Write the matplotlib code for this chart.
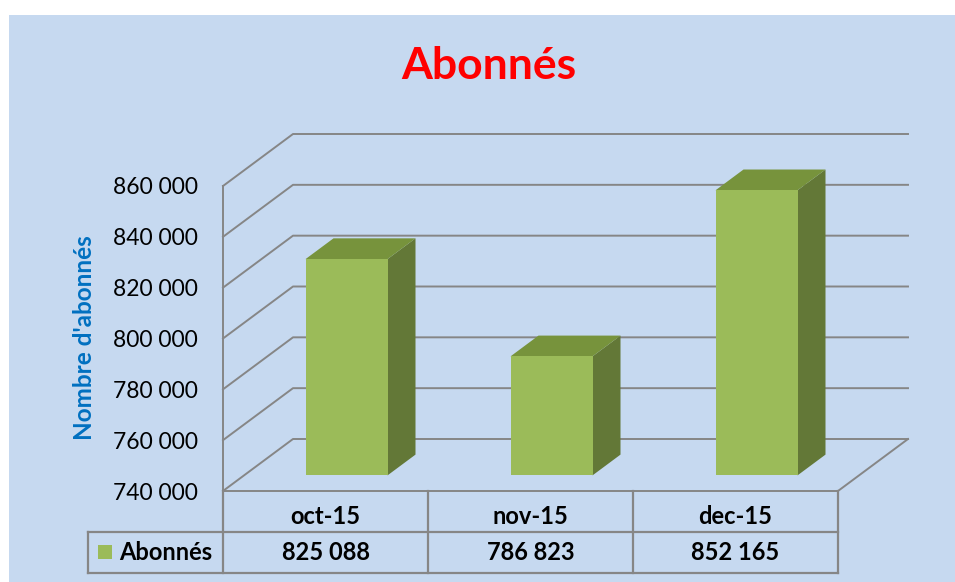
import matplotlib.pyplot as plt
from matplotlib.patches import Polygon, Rectangle
from matplotlib.transforms import Affine2D
import numpy as np

# data
months = ['oct-15', 'nov-15', 'dec-15']
abonnes = [825088, 786823, 852165]
value_labels = ['825 088', '786 823', '852 165']
yticks = [740000, 760000, 780000, 800000, 820000, 840000, 860000]
ytick_labels = ['740 000', '760 000', '780 000', '800 000', '820 000', '840 000', '860 000']

bg = '#C6D9F0'
grid_c = '#868686'
front_c = '#9BBB59'
top_c = '#77933C'
side_c = '#637837'
FONT = 'Lato'

W, H = 955, 582
fig = plt.figure(figsize=(W / 100, H / 100), dpi=100)
fig.patch.set_facecolor('white')
fig.patches.append(Rectangle((9 / W, 0), 1, 1 - 15 / H, transform=fig.transFigure,
                             facecolor=bg, edgecolor='none', zorder=-10))

# front plane of the 3d box
x0, x1 = 223, 838
y_top, y_bot = 186, 491
ax = fig.add_axes([x0 / W, 1 - y_bot / H, (x1 - x0) / W, (y_bot - y_top) / H])
ax.set_xlim(-0.5, 2.5)
ax.set_ylim(740000, 860000)
ax.axis('off')
fig.canvas.draw()

D = np.array([70.0, 52.0])   # depth offset in pixels
idt = Affine2D()             # display coords


def pt(x, v, d=0.0):
    p = ax.transData.transform((x, v))
    return p + d * D


# left wall, back wall gridlines
for v in yticks:
    a, b = pt(-0.5, v), pt(-0.5, v, 1)
    c = pt(2.5, v, 1)
    ax.plot([a[0], b[0], c[0]], [a[1], b[1], c[1]], color=grid_c, lw=1.4,
            transform=idt, clip_on=False, zorder=1)
# floor
f = [pt(-0.5, 740000), pt(2.5, 740000), pt(2.5, 740000, 1)]
ax.plot([p[0] for p in f], [p[1] for p in f], color=grid_c, lw=1.4,
        transform=idt, clip_on=False, zorder=1)
# left front vertical edge
a, b = pt(-0.5, 740000), pt(-0.5, 860000)
ax.plot([a[0], b[0]], [a[1], b[1]], color=grid_c, lw=1.4, transform=idt,
        clip_on=False, zorder=1)

# bars
bw = 0.4
d0, d1 = 0.3, 0.7
for i, v in enumerate(abonnes):
    l, r = i - bw / 2, i + bw / 2
    top = [pt(l, v, d0), pt(r, v, d0), pt(r, v, d1), pt(l, v, d1)]
    side = [pt(r, 740000, d0), pt(r, v, d0), pt(r, v, d1), pt(r, 740000, d1)]
    ax.add_patch(Polygon(side, closed=True, facecolor=side_c, edgecolor='none',
                         transform=idt, clip_on=False, zorder=3))
    ax.add_patch(Polygon(top, closed=True, facecolor=top_c, edgecolor='none',
                         transform=idt, clip_on=False, zorder=3))
shift = Affine2D().translate(d0 * D[0], d0 * D[1])
ax.bar(range(3), [v - 740000 for v in abonnes], bottom=740000, width=bw,
       color=front_c, transform=ax.transData + shift, clip_on=False, zorder=4)

# y tick labels
lab_tr = ax.transData + Affine2D().translate(-25, -2)
for v, s in zip(yticks, ytick_labels):
    ax.text(-0.5, v, s, ha='right', va='center', fontsize=16.5,
            family=FONT, color='black', transform=lab_tr)
ax.text(85 / W, 1 - 338 / H, "Nombre d'abonnés", rotation=90, ha='center', va='center',
        fontsize=17.5, fontweight='bold', family=FONT, color='#0070C0',
        transform=fig.transFigure)

# data table
row1, row2, row3 = 491, 532, 573
colx = [223, 428, 633, 838]
lx = 88
kw = dict(color=grid_c, lw=1.6, transform=fig.transFigure, clip_on=False)


def fy(y):
    return 1 - y / H


for x in colx:
    fig.add_artist(plt.Line2D([x / W, x / W], [fy(row1), fy(row3)], **kw))
fig.add_artist(plt.Line2D([lx / W, lx / W], [fy(row2), fy(row3)], **kw))
fig.add_artist(plt.Line2D([lx / W, colx[-1] / W], [fy(row2), fy(row2)], **kw))
fig.add_artist(plt.Line2D([lx / W, colx[-1] / W], [fy(row3), fy(row3)], **kw))

for i, (m, s) in enumerate(zip(months, value_labels)):
    cx = (colx[i] + colx[i + 1]) / 2 / W
    fig.text(cx, fy(517), m, ha='center', va='center',
             fontsize=17, fontweight='bold', family=FONT)
    fig.text(cx, fy(552), s, ha='center', va='center',
             fontsize=17, fontweight='bold', family=FONT)
fig.patches.append(Rectangle((98 / W, fy(559)), 14 / W, 14 / H, transform=fig.transFigure,
                             facecolor=front_c, edgecolor='none'))
fig.text(119 / W, fy(552), 'Abonnés', ha='left', va='center',
         fontsize=17, fontweight='bold', family=FONT)

fig.text(489 / W, fy(66), 'Abonnés', ha='center', va='center', fontsize=32,
         fontweight='bold', family=FONT, color='#FF0000')

fig.savefig('out.png', dpi=100, facecolor=fig.get_facecolor())
